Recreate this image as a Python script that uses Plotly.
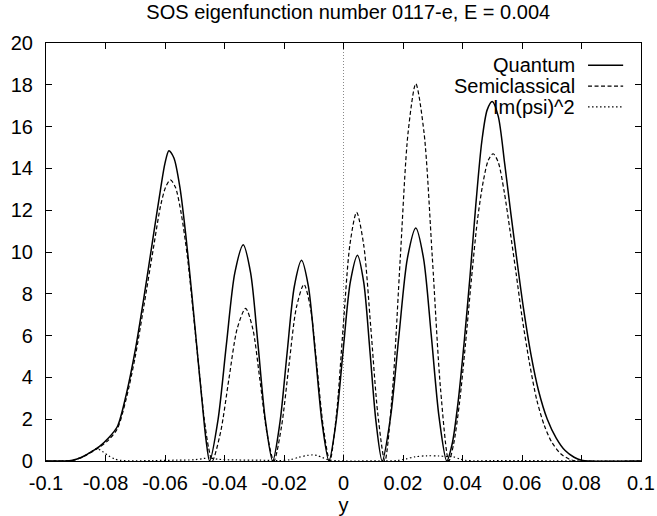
import plotly.graph_objects as go

# ---------------- data ----------------
quantum_x = [-0.100, -0.094, -0.091, -0.088, -0.085, -0.082, -0.079, -0.076, -0.073, -0.070,
             -0.067, -0.064, -0.0615, -0.0600, -0.0587, -0.0570, -0.0550, -0.0530, -0.0510,
             -0.0490, -0.0475, -0.0462, -0.0450,
             -0.04218, -0.03935, -0.03653, -0.0337, -0.03122, -0.02875, -0.02628, -0.0238,
             -0.02138, -0.01895, -0.01653, -0.0141, -0.0118, -0.0095, -0.0072, -0.0049,
             -0.0025, -0.0001, 0.0023, 0.0047, 0.00678, 0.00885, 0.01093, 0.0130,
             0.01583, 0.01865, 0.02148, 0.0243, 0.0269, 0.0295, 0.0321, 0.0347,
             0.0365, 0.0385, 0.0405, 0.0425, 0.0445, 0.0465, 0.0483, 0.0500, 0.0520,
             0.0542, 0.0562, 0.0583, 0.0605, 0.0630, 0.0655, 0.0685, 0.0715, 0.0745,
             0.0775, 0.0800, 0.0830, 0.100]
quantum_y = [0.0, 0.0, 0.04, 0.18, 0.42, 0.70, 1.10, 1.65, 3.2, 5.3,
             7.9, 10.7, 13.0, 14.25, 14.85, 14.5, 13.1, 10.8, 8.0,
             5.0, 2.8, 1.0, 0.0,
             1.97, 5.59, 9.0, 10.35, 9.0, 5.59, 1.97, 0.0,
             1.82, 5.18, 8.35, 9.6, 8.35, 5.18, 1.82, 0.0,
             1.87, 5.32, 8.57, 9.85, 8.57, 5.32, 1.87, 0.0,
             2.12, 6.02, 9.7, 11.15, 9.7, 6.02, 2.12, 0.0,
             0.8, 2.8, 5.6, 8.8, 12.3, 15.3, 16.8, 17.2, 16.5,
             14.2, 11.9, 9.6, 7.3, 5.1, 3.4, 2.0, 1.1, 0.5,
             0.18, 0.04, 0.0, 0.0]

semi_x = [-0.100, -0.094, -0.091, -0.088, -0.085, -0.082, -0.079, -0.076, -0.073, -0.070,
          -0.067, -0.064, -0.0615, -0.0598, -0.0582, -0.0565, -0.0545, -0.0525, -0.0505,
          -0.0485, -0.0468, -0.0453, -0.0441,
          -0.0413, -0.0385, -0.0357, -0.0329, -0.03053, -0.02815, -0.02578, -0.0234,
          -0.02088, -0.01835, -0.01583, -0.0133, -0.01113, -0.00895, -0.00678, -0.0046,
          -0.00235, -0.0001, 0.00215, 0.0044, 0.00678, 0.00915, 0.01153, 0.0139,
          0.0165, 0.0191, 0.0217, 0.0243, 0.02708, 0.02985, 0.03263, 0.0354,
          0.0370, 0.0390, 0.0410, 0.0430, 0.0450, 0.0470, 0.0487, 0.0503, 0.0520,
          0.0540, 0.0560, 0.0580, 0.0600, 0.0625, 0.0650, 0.0675, 0.0700, 0.0730,
          0.0760, 0.0785, 0.100]
semi_y = [0.0, 0.0, 0.03, 0.17, 0.40, 0.66, 1.00, 1.55, 3.0, 5.0,
          7.5, 10.1, 12.2, 13.1, 13.45, 13.1, 11.8, 9.8, 7.1,
          4.3, 2.0, 0.6, 0.0,
          1.39, 3.94, 6.35, 7.3, 6.35, 3.94, 1.39, 0.0,
          1.61, 4.56, 7.35, 8.45, 7.35, 4.56, 1.61, 0.0,
          2.26, 6.43, 10.35, 11.9, 10.35, 6.43, 2.26, 0.0,
          3.43, 9.75, 15.7, 18.05, 15.7, 9.75, 3.43, 0.0,
          0.8, 2.8, 5.6, 8.7, 11.5, 13.4, 14.4, 14.7, 14.3,
          12.9, 11.0, 9.0, 6.9, 4.7, 2.9, 1.7, 0.9, 0.35,
          0.08, 0.0, 0.0]

impsi_x = [-0.100, -0.092, -0.088, -0.085, -0.083, -0.081, -0.079, -0.077, -0.075, -0.070,
           -0.064, -0.056, -0.050, -0.047, -0.045, -0.042, -0.036, -0.028, -0.022,
           -0.018, -0.015, -0.012, -0.0105, -0.009, -0.007, -0.005, -0.002, 0.004,
           0.012, 0.018, 0.021, 0.024, 0.028, 0.032, 0.035, 0.037, 0.039, 0.041,
           0.044, 0.050, 0.060, 0.070, 0.078, 0.100]
impsi_y = [0.0, 0.02, 0.18, 0.42, 0.60, 0.45, 0.25, 0.10, 0.03, 0.01,
           0.02, 0.04, 0.06, 0.12, 0.15, 0.08, 0.05, 0.04, 0.02,
           0.06, 0.18, 0.27, 0.29, 0.27, 0.16, 0.05, 0.01, 0.0,
           0.01, 0.02, 0.10, 0.20, 0.25, 0.24, 0.21, 0.20, 0.10, 0.03,
           0.01, 0.02, 0.02, 0.01, 0.0, 0.0]

x_ticks = [-0.1, -0.08, -0.06, -0.04, -0.02, 0, 0.02, 0.04, 0.06, 0.08, 0.1]
x_tick_labels = ["-0.1", "-0.08", "-0.06", "-0.04", "-0.02", "0", "0.02", "0.04", "0.06", "0.08", "0.1"]
y_ticks = [0, 2, 4, 6, 8, 10, 12, 14, 16, 18, 20]
y_tick_labels = ["0", "2", "4", "6", "8", "10", "12", "14", "16", "18", "20"]

series_names = ["Quantum", "Semiclassical", "Im(psi)^2"]
title_text = "SOS eigenfunction number 0117-e, E = 0.004"
x_title = "y"

# ---------------- figure ----------------
FONT = "Liberation Sans, Arial, Helvetica, sans-serif"
dashes = ["solid", "4px,2.5px", "1.5px,2.5px"]
widths = [1.5, 1.2, 1.2]
W, H = 657, 516

fig = go.Figure()
for name, xs, ys, d, w in zip(series_names,
                              [quantum_x, semi_x, impsi_x],
                              [quantum_y, semi_y, impsi_y],
                              dashes, widths):
    fig.add_trace(go.Scatter(x=xs, y=ys, mode="lines", name=name,
                             line=dict(color="black", width=w, dash=d,
                                       shape="spline", smoothing=0.8),
                             showlegend=False))

# gnuplot-style legend: text on the left, line sample on the right
legend_rows = [0.947, 0.897, 0.847]
shapes = []
annotations = []
for name, yy, d, w in zip(series_names, legend_rows, dashes, widths):
    annotations.append(dict(text=name, x=0.8924, y=yy, xref="paper", yref="paper",
                            xanchor="right", yanchor="middle", showarrow=False,
                            font=dict(family=FONT, size=20, color="black")))
    shapes.append(dict(type="line", xref="paper", yref="paper",
                       x0=0.911, x1=0.970, y0=yy, y1=yy,
                       line=dict(color="black", width=w, dash=d)))

# dotted zero axis (x = 0)
shapes.append(dict(type="line", xref="x", yref="paper", x0=0, x1=0, y0=0, y1=1,
                   line=dict(color="#888888", width=1, dash="1px,2px"), layer="below"))

fig.update_layout(
    width=W, height=H,
    margin=dict(l=46, r=16, t=43, b=55, autoexpand=False),
    paper_bgcolor="white", plot_bgcolor="white",
    font=dict(family=FONT, size=20, color="black"),
    title=dict(text=title_text, x=0.508, xref="paper", y=1 - 12 / H, yref="container",
               xanchor="center", yanchor="middle",
               font=dict(family=FONT, size=20, color="black")),
    shapes=shapes,
    annotations=annotations,
)
fig.update_xaxes(range=[-0.1, 0.1], tickvals=x_ticks, ticktext=x_tick_labels,
                 ticks="inside", ticklen=6, tickwidth=1, tickcolor="black",
                 showline=True, linecolor="black", linewidth=1.2, mirror="ticks",
                 showgrid=False, zeroline=False, ticklabelstandoff=4,
                 title=dict(text=x_title, standoff=2, font=dict(family=FONT, size=20)),
                 automargin=False)
fig.update_yaxes(range=[0, 20], tickvals=y_ticks, ticktext=y_tick_labels,
                 ticks="inside", ticklen=6, tickwidth=1, tickcolor="black",
                 showline=True, linecolor="black", linewidth=1.2, mirror="ticks",
                 showgrid=False, zeroline=False, ticklabelstandoff=8,
                 automargin=False)

# remove the browser's default body margin so the figure fills the window exactly
fig.write_html("out.html",
               config={"displayModeBar": False},
               post_script="document.body.style.margin='0';document.body.style.overflow='hidden';")
